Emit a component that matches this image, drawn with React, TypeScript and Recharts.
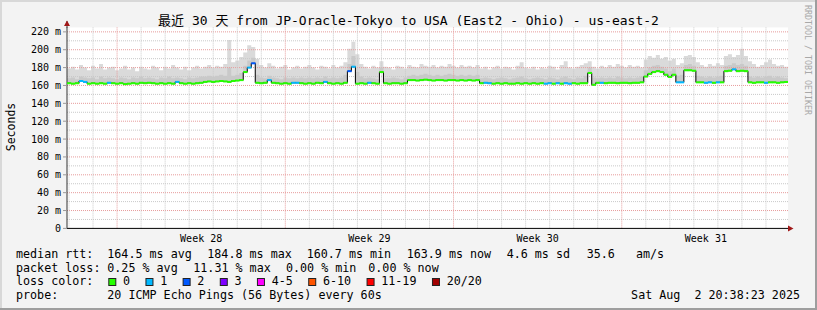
import React from "react";
import {
  ComposedChart,
  Area,
  Line,
  Scatter,
  XAxis,
  YAxis,
  ReferenceLine,
  CartesianGrid,
} from "recharts";

// ---------- data (4-hour steps over the last 30 days) ----------
const MEDIAN = [
  162.5, 162, 162.5, 165, 164, 162, 162.5, 162, 162.5, 162, 163, 162.5, 162, 162.5, 161.5, 162, 162.5, 162, 163, 162.5,
  163, 162.5, 162, 162.5, 162, 162.5, 162, 164, 162.5, 162, 162.5, 162, 162.5, 163, 164, 164.5, 164, 164.5, 165, 164.5,
  164, 165, 165.5, 166, 175, 180, 184.8, 163, 162.5, 163, 166, 163, 162.5, 162, 162.5, 162, 163, 163, 162.5, 162,
  162.5, 162, 163, 162.5, 164, 162.5, 162, 162.5, 162, 163, 176, 181, 162, 162.5, 162, 163, 162.5, 162, 175, 162.5,
  162, 162.5, 162.5, 162, 162.5, 166, 166, 165.5, 166, 166.5, 166, 165.5, 166, 166, 165.5, 166, 166, 165.5, 166, 165.5,
  166, 165.5, 166, 162.5, 163, 162.5, 162, 162.5, 162, 162.5, 162, 162, 162.5, 162, 162.5, 162, 162.5, 162, 162.5, 162,
  162.5, 162, 162.5, 162, 162.5, 162, 162.5, 162, 162.5, 162.5, 174, 160.8, 163, 163, 162.5, 163, 163, 162.5, 163, 163,
  162.5, 163, 163, 163.5, 170, 173, 175, 176, 175, 172, 169.5, 172, 163.5, 163.5, 177, 177, 176.5, 163.5, 163.5, 163,
  163.5, 163, 163.5, 163.5, 176, 176.5, 178, 176, 176.5, 176, 163.5, 163, 163.5, 163.5, 163, 163.5, 163.5, 163, 163.5, 163.9,
];

const SMOKE_HI = [
  179, 181, 178, 183, 180, 177, 182, 179, 184, 178, 180, 181, 177, 179, 182, 178, 180, 176, 181, 179,
  178, 182, 180, 177, 181, 179, 183, 180, 178, 181, 177, 180, 182, 179, 181, 183, 180, 182, 181, 184,
  211, 186, 188, 192, 197, 205, 203, 190, 183, 180, 185, 182, 179, 181, 183, 178, 180, 182, 179, 181,
  183, 180, 178, 182, 181, 179, 183, 180, 182, 186, 201, 209, 195, 184, 181, 179, 182, 180, 187, 181,
  180, 178, 182, 181, 179, 183, 181, 180, 184, 182, 181, 183, 180, 182, 181, 184, 182, 180, 183, 181,
  182, 180, 183, 179, 181, 178, 180, 182, 179, 181, 180, 178, 182, 186, 180, 179, 181, 178, 180, 179,
  182, 181, 178, 183, 187, 180, 179, 181, 183, 185, 187, 181, 179, 182, 180, 183, 181, 184, 182, 180,
  183, 181, 182, 180, 189, 193, 191, 194, 190, 192, 188, 190, 183, 185, 193, 194, 192, 186, 183, 181,
  184, 182, 185, 183, 193, 195, 192, 194, 201, 193, 187, 184, 181, 183, 186, 189, 184, 182, 183, 181,
];

const SMOKE_MID = [
  168, 169, 167, 170, 169, 168, 169, 167, 170, 168, 169, 168, 167, 169, 168, 167, 169, 168, 170, 168,
  169, 168, 167, 169, 168, 170, 168, 169, 168, 167, 169, 168, 169, 170, 170, 171, 170, 171, 172, 171,
  180, 171, 172, 174, 182, 188, 191, 172, 169, 168, 171, 169, 168, 167, 169, 168, 169, 168, 169, 168,
  169, 168, 169, 168, 170, 168, 169, 168, 169, 172, 184, 193, 175, 170, 168, 169, 168, 167, 180, 168,
  168, 169, 168, 167, 169, 171, 172, 171, 172, 173, 172, 171, 172, 171, 172, 173, 172, 171, 172, 171,
  172, 171, 172, 168, 169, 168, 167, 168, 169, 168, 167, 168, 169, 170, 168, 167, 168, 169, 168, 167,
  169, 168, 167, 169, 170, 168, 167, 169, 168, 171, 180, 169, 168, 169, 168, 169, 168, 170, 169, 168,
  169, 168, 169, 170, 177, 180, 182, 183, 181, 179, 176, 179, 171, 172, 183, 184, 182, 171, 170, 169,
  170, 169, 170, 171, 182, 183, 185, 183, 184, 182, 170, 169, 170, 169, 170, 171, 169, 170, 169, 168,
];

const LOSS1_IDX = [3, 4, 10, 27, 45, 50, 56, 57, 64, 71, 75, 104, 105, 119, 120, 122, 124, 125, 133, 152, 153, 159, 160, 162, 166, 174];
const LOSS2_IDX = [46, 70];

const STEP_HOURS = 4;
const SPAN_HOURS = 720;
const Y_TICKS = [0, 20, 40, 60, 80, 100, 120, 140, 160, 180, 200, 220];
const WEEK_TICKS = [134, 302, 470, 638];
const WEEK_LABELS = ["Week 28", "Week 29", "Week 30", "Week 31"];
const WEEK_LINES = [50, 218, 386, 554];

const TITLE = "最近 30 天 from JP-Oracle-Tokyo to USA (East2 - Ohio) - us-east-2";
const RTT_PARTS = ["median rtt:", "164.5 ms avg", "184.8 ms max", "160.7 ms min", "163.9 ms now", "4.6 ms sd", "35.6", "am/s"];
const LOSS_PARTS = ["packet loss:", "0.25 % avg", "11.31 % max", "0.00 % min", "0.00 % now"];
const LOSS_LABELS = ["0", "1", "2", "3", "4-5", "6-10", "11-19", "20/20"];
const LOSS_COLORS = ["#26ff00", "#00b8ff", "#0059ff", "#7e00ff", "#ff00ff", "#ff5500", "#ff0000", "#a10000"];
const PROBE_TEXT = "20 ICMP Echo Pings (56 Bytes) every 60s";
const DATE_TEXT = "Sat Aug  2 20:38:23 2025";

// ---------- layout ----------
const W = 817;
const H = 310;
const FONT = "'DejaVu Sans Mono', 'Noto Sans CJK SC', monospace";
const RTT_X = [16, 107.3, 207.3, 306.7, 406.7, 506.7, 586.7, 636];
const LOSS_X = [16, 107.3, 193.3, 286, 368.3];
const CHAR_W = 7.06;

const data = MEDIAN.map((m, i) => ({
  h: i * STEP_HOURS,
  med: m,
  hi: SMOKE_HI[i],
  mid: SMOKE_MID[i],
  loss: LOSS2_IDX.includes(i) ? 2 : LOSS1_IDX.includes(i) ? 1 : 0,
  end: false,
}));
data.push({ ...data[data.length - 1], h: SPAN_HOURS, end: true });

const dayLines: number[] = [];
for (let d = 2; d < SPAN_HOURS; d += 24) if (!WEEK_LINES.includes(d)) dayLines.push(d);
const minorY: number[] = [];
for (let v = 10; v < 225; v += 20) minorY.push(v);
const majorY = Y_TICKS.filter((v) => v > 0);

const GRAY = "#c9c9c9";
const RED = "#e79c9c";

const SegShape = (p: any) => {
  if (!p || !p.payload || p.payload.end) return <g />;
  return (
    <rect
      x={p.cx}
      y={p.cy - 1}
      width={4.3}
      height={2}
      fill={LOSS_COLORS[p.payload.loss]}
    />
  );
};

const legendBoxes = (() => {
  const out: { x: number; label: string; color: string }[] = [];
  let x = 108.3;
  LOSS_LABELS.forEach((l, i) => {
    out.push({ x, label: l, color: LOSS_COLORS[i] });
    x += 14.7 + CHAR_W * l.length + 15.4;
  });
  return out;
})();

export default function App() {
  return (
    <div
      style={{
        position: "absolute",
        left: 0,
        top: 0,
        width: W,
        height: H,
        background: "#f3f3f3",
        overflow: "hidden",
      }}
    >
      <ComposedChart
        width={W}
        height={H}
        data={data}
        margin={{ top: 27.4, right: 29, bottom: 61.6, left: 7 }}
      >
        <CartesianGrid fill="#ffffff" horizontal={false} vertical={false} />
        <XAxis
          type="number"
          dataKey="h"
          domain={[0, SPAN_HOURS]}
          ticks={WEEK_TICKS}
          interval={0}
          tickFormatter={(v: number) => WEEK_LABELS[WEEK_TICKS.indexOf(v)] ?? ""}
          tickLine={false}
          tickSize={4}
          tickMargin={2}
          height={20}
          axisLine={{ stroke: "#000", strokeWidth: 1 }}
          tick={{ fontSize: 10, fontFamily: FONT, fill: "#000" }}
          allowDataOverflow
        />
        <YAxis
          type="number"
          domain={[0, 225]}
          ticks={Y_TICKS}
          interval={0}
          width={60}
          tickSize={4}
          tickMargin={2}
          tickFormatter={(v: number) => (v === 0 ? "0" : `${v} m`)}
          axisLine={{ stroke: "#333", strokeWidth: 1 }}
          tickLine={{ stroke: "#999" }}
          tick={{ fontSize: 10, fontFamily: FONT, fill: "#000" }}
          allowDataOverflow
        />
        <Area
          type="stepAfter"
          dataKey={(d: any) => [d.med, d.hi]}
          stroke="none"
          fill="#dadada"
          fillOpacity={1}
          isAnimationActive={false}
          dot={false}
          activeDot={false}
        />
        <Area
          type="stepAfter"
          dataKey={(d: any) => [d.med, d.mid]}
          stroke="none"
          fill="#c9c9c9"
          fillOpacity={1}
          isAnimationActive={false}
          dot={false}
          activeDot={false}
        />
        {minorY.map((v) => (
          <ReferenceLine key={"my" + v} y={v} stroke={GRAY} strokeDasharray="1 1" />
        ))}
        {majorY.map((v) => (
          <ReferenceLine key={"My" + v} y={v} stroke={RED} strokeDasharray="1 1" />
        ))}
        {dayLines.map((v) => (
          <ReferenceLine key={"dx" + v} x={v} stroke={GRAY} strokeDasharray="1 1" />
        ))}
        {WEEK_LINES.map((v) => (
          <ReferenceLine key={"wx" + v} x={v} stroke={RED} strokeDasharray="1 1" />
        ))}
        <Line
          type="stepAfter"
          dataKey="med"
          stroke="#000"
          strokeWidth={1}
          dot={false}
          activeDot={false}
          isAnimationActive={false}
        />
        <Scatter dataKey="med" shape={SegShape} isAnimationActive={false} />
      </ComposedChart>

      <svg
        width={W}
        height={H}
        style={{ position: "absolute", left: 0, top: 0, pointerEvents: "none" }}
      >
        {/* frame */}
        <rect x={0} y={0} width={W} height={2} fill="#d8d8d8" />
        <rect x={0} y={0} width={2} height={H} fill="#d8d8d8" />
        <rect x={0} y={H - 2} width={W} height={2} fill="#9e9e9e" />
        <rect x={W - 2} y={0} width={2} height={H} fill="#9e9e9e" />

        {/* axis arrows */}
        <line x1={67} y1={21} x2={67} y2={28} stroke="#333" strokeWidth={1} />
        <polygon points="64,26 70,26 67,20.5" fill="#a01818" />
        <polygon points="788,225.4 788,231.4 793.5,228.4" fill="#a01818" />

        {/* title */}
        <text
          x={408.5}
          y={24.5}
          textAnchor="middle"
          fontFamily={FONT}
          fontSize={13}
          fill="#000"
        >
          {TITLE}
        </text>

        {/* y label */}
        <text
          transform="translate(15,127) rotate(-90)"
          textAnchor="middle"
          fontFamily={FONT}
          fontSize={11.5}
          fill="#000"
        >
          Seconds
        </text>

        {/* watermark */}
        <text
          transform="translate(805,5) rotate(90)"
          fontFamily={FONT}
          fontSize={8.3}
          fill="#a8a8a8"
        >
          RRDTOOL / TOBI OETIKER
        </text>

        {/* legend */}
        <g fontFamily={FONT} fontSize={11.7} fill="#000" style={{ whiteSpace: "pre" }}>
          {RTT_PARTS.map((t, i) => (
            <text key={"r" + i} x={RTT_X[i]} y={258}>
              {t}
            </text>
          ))}
          {LOSS_PARTS.map((t, i) => (
            <text key={"l" + i} x={LOSS_X[i]} y={271.5}>
              {t}
            </text>
          ))}
          <text x={16} y={285}>
            loss color:
          </text>
          {legendBoxes.map((b, i) => (
            <g key={"b" + i}>
              <rect
                x={b.x + 0.5}
                y={278.5}
                width={7}
                height={7}
                fill={b.color}
                stroke="#222"
                strokeWidth={1}
              />
              <text x={b.x + 14.7} y={285}>
                {b.label}
              </text>
            </g>
          ))}
          <text x={16} y={298.5}>
            probe:
          </text>
          <text x={107.3} y={298.5}>
            {PROBE_TEXT}
          </text>
          <text x={800} y={298.5} textAnchor="end" xmlSpace="preserve">
            {DATE_TEXT}
          </text>
        </g>
      </svg>
    </div>
  );
}
